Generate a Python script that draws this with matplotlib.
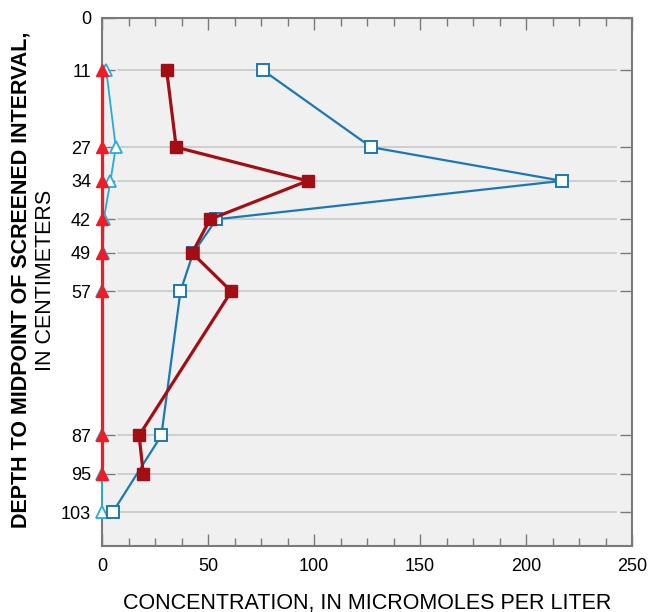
import matplotlib
matplotlib.use("Agg")
import matplotlib.pyplot as plt
from matplotlib.ticker import MultipleLocator

plt.rcParams['font.family'] = ['Liberation Sans', 'DejaVu Sans']

# Depths (cm) of the screened-interval midpoints
depth_ticks = [0, 11, 27, 34, 42, 49, 57, 87, 95, 103]

# Open squares, blue line
sq_depth = [11, 27, 34, 42, 49, 57, 87, 103]
sq_conc = [76, 127, 217, 54, 43, 37, 28, 5]

# Filled squares, dark red line
fsq_depth = [11, 27, 34, 42, 49, 57, 87, 95]
fsq_conc = [30.5, 35, 97, 51, 42.5, 61, 17.5, 19.5]

# Open triangles, light blue line
tri_depth = [11, 27, 34, 42, 49, 57, 87, 95, 103]
tri_conc = [2, 6.5, 4, 0.8, 0.5, 0, 0, 0, 0]

# Filled triangles, bright red line
ftri_depth = [11, 27, 34, 42, 49, 57, 87, 95]
ftri_conc = [0, 0, 0, 0, 0, 0, 0, 0]

x_ticks = [0, 50, 100, 150, 200, 250]

DARK_RED = '#a30d14'
BLUE = '#1a78b9'
LIGHT_BLUE = '#26aae4'
RED = '#ee1c25'
SPINE = '#7a7a7a'

fig = plt.figure(figsize=(6.49, 6.12), dpi=100)
ax = fig.add_axes([102/649, 1-546/612, 530/649, (546-17.5)/612])
ax.set_facecolor('#f0f0f0')

ax.set_xlim(0, 250)
ax.set_ylim(110, 0)

# horizontal guide lines at each sampled depth
for d in depth_ticks[1:]:
    ax.axhline(d, xmin=0.03, xmax=0.97, color='#c4c4c4', lw=1.1, zorder=1)

ax.plot(tri_conc, tri_depth, color=LIGHT_BLUE, lw=1.3, marker='^', ms=8,
        mfc='white', mec=LIGHT_BLUE, mew=1.3, zorder=3, clip_on=False)
ax.plot(sq_conc, sq_depth, color=BLUE, lw=1.6, marker='s', ms=8,
        mfc='white', mec=BLUE, mew=1.4, zorder=4, clip_on=False)
ax.plot(fsq_conc, fsq_depth, color=DARK_RED, lw=2.3, marker='s', ms=8,
        mfc=DARK_RED, mec=DARK_RED, zorder=5, clip_on=False)
ax.plot(ftri_conc, ftri_depth, color=RED, lw=2.3, marker='^', ms=8.5,
        mfc=RED, mec=RED, zorder=6, clip_on=False)

ax.set_xticks(x_ticks)
ax.set_xticklabels([str(v) for v in x_ticks])
ax.xaxis.set_minor_locator(MultipleLocator(12.5))
ax.set_yticks(depth_ticks)
ax.set_yticklabels([str(v) for v in depth_ticks])

ax.tick_params(axis='x', which='major', direction='in', length=8.5, width=1.0,
               color=SPINE, top=True, bottom=True, labelsize=13, pad=8.5)
ax.tick_params(axis='x', which='minor', direction='in', length=5.5, width=1.0,
               color=SPINE, top=True, bottom=True)
ax.tick_params(axis='y', which='major', direction='in', length=9, width=1.0,
               color=SPINE, left=True, right=True, labelsize=13, pad=8)

for s in ax.spines.values():
    s.set_color(SPINE)
    s.set_linewidth(1.5)

fig.text(367 / 649, 1 - 603 / 612,
         'CONCENTRATION, IN MICROMOLES PER LITER',
         ha='center', va='center', fontsize=15.5)
fig.text(21 / 649, 1 - 280 / 612, 'DEPTH TO MIDPOINT OF SCREENED INTERVAL,',
         rotation=90, ha='center', va='center', fontsize=15.5, fontweight='bold')
fig.text(46 / 649, 1 - 280 / 612, 'IN CENTIMETERS',
         rotation=90, ha='center', va='center', fontsize=15.5)

fig.savefig('out.png', dpi=100)
